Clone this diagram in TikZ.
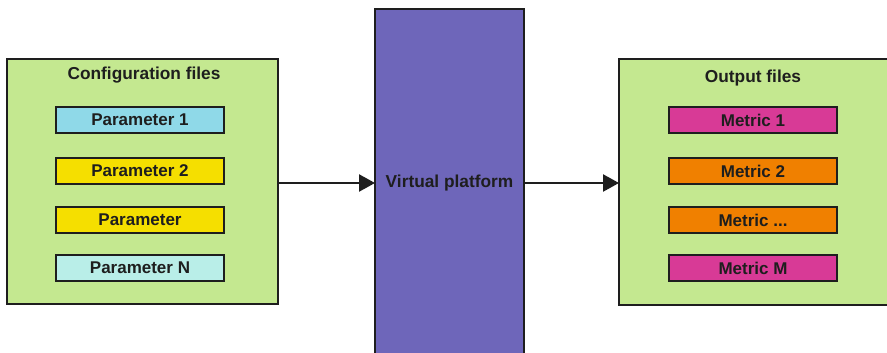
\documentclass[tikz,border=0pt]{standalone}
\usepackage{fontspec}
\setmainfont{Liberation Sans}
\usetikzlibrary{arrows.meta}
\definecolor{boxgreen}{HTML}{C4E890}
\definecolor{vpurple}{HTML}{6E66BA}
\definecolor{pcyan}{HTML}{8FD9E8}
\definecolor{pyellow}{HTML}{F5DF00}
\definecolor{plcyan}{HTML}{B9EEE8}
\definecolor{mmagenta}{HTML}{D83A96}
\definecolor{morange}{HTML}{F08000}
\definecolor{edge}{HTML}{1E1E1E}
\tikzset{
  container/.style={draw=edge, line width=2.4pt, fill=boxgreen},
  itembox/.style={draw=edge, line width=2.4pt, minimum width=168pt, minimum height=26pt, inner sep=0pt,
    font=\fontsize{17}{19}\selectfont\bfseries, text=edge},
  titletext/.style={font=\fontsize{17.3}{19}\selectfont\bfseries, text=edge, inner sep=0pt},
  flow/.style={draw=edge, line width=2.4pt, -{Triangle[length=16pt,width=17pt]}}
}
\begin{document}
\begin{tikzpicture}[x=1pt,y=-1pt]
\useasboundingbox (0,0) rectangle (887,353);
\begin{scope}
\clip (0,0) rectangle (887,353);
% containers
\draw[container] (7,59) rectangle (278,304);
\node (cfg) at (142.5,181.5) [minimum width=271pt, minimum height=245pt, inner sep=0pt] {};
\draw[container] (619,59) rectangle (900,305);
\node (out) at (759.5,182) [minimum width=281pt, minimum height=246pt, inner sep=0pt] {};
\draw[draw=edge, line width=2.4pt, fill=vpurple] (375,9) rectangle (524,365);
\node (vp) at (449.5,187) [minimum width=149pt, minimum height=356pt, inner sep=0pt] {};
\end{scope}
% titles
\node[titletext] (cfgtitle) at (144,75) {Configuration files};
\node[titletext] (outtitle) at (753,78) {Output files};
\node[titletext] (vptitle) at (449.5,183) {Virtual platform};
% parameter boxes
\node[itembox, fill=pcyan] (p1) at (140,120) {Parameter 1};
\node[itembox, fill=pyellow] (p2) at (140,171) {Parameter 2};
\node[itembox, fill=pyellow] (p3) at (140,220) {Parameter};
\node[itembox, fill=plcyan] (pn) at (140,268) {Parameter N};
% metric boxes
\node[itembox, fill=mmagenta] (m1) at (753,120) {Metric 1};
\node[itembox, fill=morange] (m2) at (753,171) {Metric 2};
\node[itembox, fill=morange] (m3) at (753,220) {Metric ...};
\node[itembox, fill=mmagenta] (mm) at (753,268) {Metric M};
% arrows
\coordinate (a1s) at (278,183);
\coordinate (a1e) at (375,183);
\coordinate (a2s) at (524,183);
\coordinate (a2e) at (619,183);
\draw[flow] (a1s) -- (a1e);
\draw[flow] (a2s) -- (a2e);
\end{tikzpicture}
\end{document}
